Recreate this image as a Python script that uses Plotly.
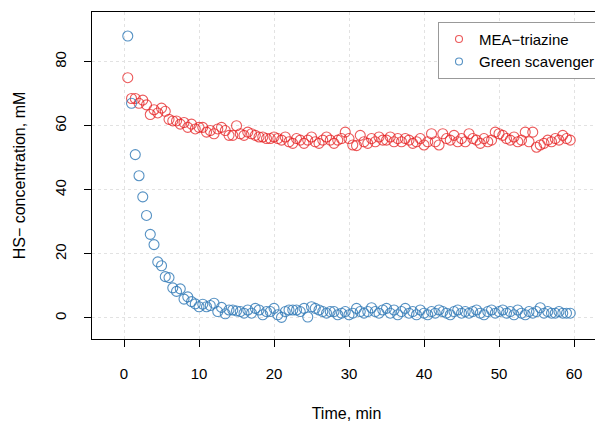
import numpy as np
import plotly.graph_objects as go

time_min = [0.5 * i for i in range(1, 120)]

mea_triazine = [
    75, 68.5, 68.5, 67, 68, 66.5, 63.5, 65, 64, 65.5,
    64.5, 62, 61.5, 61.5, 60.5, 61, 59.5, 60.5, 59, 59.5,
    59.5, 58, 58.5, 57.5, 59, 59.5, 58.5, 57, 57, 60,
    57.5, 57, 58, 57.5, 57, 56.5, 56.5, 56, 56, 56.5,
    56, 55.5, 56.5, 55, 54.5, 56, 55.5, 54.5, 55.5, 56.5,
    55, 54.5, 55.5, 56.5, 55.5, 54.5, 55.5, 56, 58, 56,
    54, 53.8, 57, 55, 54.5, 56, 55, 56.5, 55.5, 55.5,
    56.5, 55, 56, 55, 56, 55.5, 54.5, 55, 56, 54,
    55, 57.5, 55, 54, 57.5, 56, 55.5, 57, 55, 56,
    55, 57.5, 56, 55.5, 54.5, 56, 55, 55.5, 58, 57.5,
    57, 56, 55.5, 56.5, 55, 55.5, 58, 55, 58, 53.3,
    54, 54.5, 55.5, 55, 56, 55.5, 57, 56, 55.5,
]

green_scavenger = [
    88, 67, 51, 44.4, 37.8, 32, 26.1, 22.9, 17.5, 16.3,
    12.9, 12.6, 9.4, 8.3, 9.1, 5.9, 6.6, 5.1, 4.4, 3.5,
    4.3, 3.5, 3.9, 4.6, 2.0, 3.3, 1.3, 2.5, 2.5, 2.2,
    2, 1.5, 2.5, 1.5, 3, 2.5, 1, 2, 2, 3,
    1, 0.2, 2, 2.5, 2.5, 2.5, 2, 3, 0.3, 3.5,
    3, 2.5, 2, 1.5, 2, 2, 1, 1.5, 2, 1,
    1.5, 3, 2, 1.5, 2, 3.2, 2, 1.5, 2.5, 3,
    1.5, 2.5, 1, 2, 3, 1.5, 2, 1, 2.5, 1.5,
    1, 2, 1.5, 2.5, 2, 1.5, 1, 2, 2.5, 1.5,
    2, 1.5, 2, 2.5, 1.5, 1, 2, 2.5, 1.5, 2,
    2.5, 1.5, 2, 1, 2.5, 1.5, 1, 2, 1.5, 2,
    3.2, 1.5, 2, 1.5, 1.5, 2, 1.5, 1.5, 1.5,
]

series_names = ["MEA\u2212triazine", "Green scavenger"]
x_ticks = [0, 10, 20, 30, 40, 50, 60]
y_ticks = [0, 20, 40, 60, 80]

RED = "rgba(228,26,28,0.72)"
BLUE = "rgba(55,126,184,0.85)"
FONT = "Liberation Sans, Arial, sans-serif"

fig = go.Figure()
for name, vals, col in [(series_names[0], mea_triazine, RED),
                        (series_names[1], green_scavenger, BLUE)]:
    fig.add_trace(go.Scatter(
        x=time_min, y=vals, mode="markers", name=name, showlegend=False,
        marker=dict(symbol="circle-open", size=10, color=col, line=dict(width=1.1, color=col)),
    ))
    # legend-only entry with small symbol
    fig.add_trace(go.Scatter(
        x=[None], y=[None], mode="markers", name=name,
        marker=dict(symbol="circle-open", size=7, color=col, line=dict(width=1.1, color=col)),
    ))

axis_common = dict(
    showline=True, mirror=True, linecolor="black", linewidth=1,
    ticks="outside", ticklen=7, tickcolor="black", tickwidth=1,
    showgrid=True, gridcolor="#e2e2e2", griddash="dot", gridwidth=1,
    zeroline=False, tickfont=dict(family=FONT, size=15, color="black"),
)

fig.update_layout(
    width=595, height=415,
    margin=dict(l=84, r=2, t=4, b=84),
    paper_bgcolor="white", plot_bgcolor="white",
    font=dict(family=FONT, color="black"),
    xaxis=dict(range=[-4.27, 63.6], tickvals=x_ticks, ticklabelstandoff=14,
               title=dict(text="Time, min", font=dict(family=FONT, size=16), standoff=26),
               **axis_common),
    yaxis=dict(range=[-6.56, 95.5], tickvals=y_ticks, tickangle=-90, ticklabelstandoff=12,
               title=dict(text="HS\u2212 concentration, mM", font=dict(family=FONT, size=16), standoff=22),
               **axis_common),
    legend=dict(x=1, y=0.97, xanchor="right", yanchor="top",
                bordercolor="#999999", borderwidth=1, bgcolor="white",
                font=dict(family=FONT, size=15, color="black"),
                itemwidth=30, tracegroupgap=0),
)

fig.write_html("out.html")
